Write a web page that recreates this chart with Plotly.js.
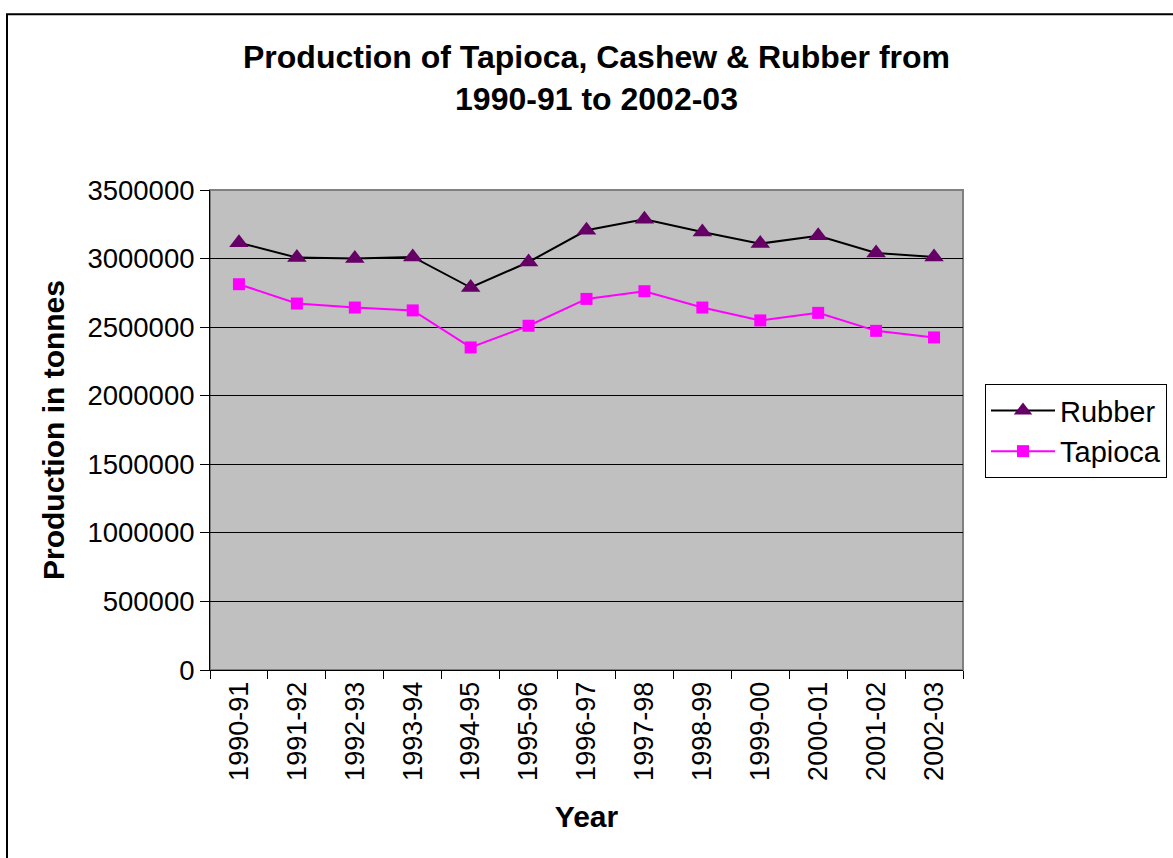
<!DOCTYPE html>
<html>
<head>
<meta charset="utf-8">
<script src="https://cdn.plot.ly/plotly-3.0.1.min.js"></script>
<style>
  html, body { margin: 0; padding: 0; background: #fff; }
  #chart { width: 1173px; height: 858px; }
</style>
</head>
<body>
<div id="chart"></div>
<script>
const years = ["1990-91","1991-92","1992-93","1993-94","1994-95","1995-96","1996-97","1997-98","1998-99","1999-00","2000-01","2001-02","2002-03"];
const rubber = [3116000, 3007000, 3000000, 3012000, 2789000, 2975000, 3206000, 3286000, 3194000, 3109000, 3167000, 3041000, 3012000];
const tapioca = [2813000, 2672000, 2643000, 2622000, 2352000, 2510000, 2706000, 2762000, 2643000, 2549000, 2604000, 2473000, 2425000];

const FONT = "Liberation Sans, Arial, sans-serif";

const traces = [
  {
    x: years, y: rubber, name: "Rubber", type: "scatter", mode: "lines+markers",
    line: { color: "#000000", width: 2 },
    marker: { symbol: "triangle-up", size: 17, color: "#660066" }
  },
  {
    x: years, y: tapioca, name: "Tapioca", type: "scatter", mode: "lines+markers",
    line: { color: "#FF00FF", width: 2 },
    marker: { symbol: "square", size: 12, color: "#FF00FF" }
  }
];

const L = 210, R = 963, T = 189.5, B = 670.5;
const W = R - L, H = B - T;
const px = v => (v - L) / W;
const py = v => (B - v) / H;

const layout = {
  width: 1173, height: 858,
  margin: { l: L, r: 1173 - R, t: T, b: 858 - B, autoexpand: false },
  paper_bgcolor: "#ffffff",
  plot_bgcolor: "#C0C0C0",
  font: { family: FONT, color: "#000", size: 27 },
  title: {
    text: "<b>Production of Tapioca, Cashew & Rubber from<br>1990-91 to 2002-03</b>",
    font: { family: FONT, size: 32, color: "#000" },
    x: px(596.5), xref: "paper", xanchor: "center",
    y: 1 - 68 / 858, yref: "container", yanchor: "middle"
  },
  showlegend: true,
  legend: {
    x: px(985), y: py(384), xanchor: "left", yanchor: "top",
    bgcolor: "#ffffff", bordercolor: "#000", borderwidth: 1,
    font: { family: FONT, size: 29, color: "#000" },
    itemwidth: 64, tracegroupgap: 0
  },
  xaxis: {
    type: "category",
    range: [-0.5, years.length - 0.5],
    tickangle: -90,
    ticks: "outside", ticklen: 8, tickcolor: "#000", tickwidth: 1,
    tickson: "boundaries",
    showline: true, linecolor: "#000", linewidth: 1,
    showgrid: false, zeroline: false,
    tickfont: { family: FONT, size: 27, color: "#000" },
    title: { text: "<b>Year</b>", font: { family: FONT, size: 30, color: "#000" }, standoff: 26 },
    automargin: false
  },
  yaxis: {
    range: [0, 3500000], dtick: 500000, tick0: 0,
    tickformat: "d",
    ticks: "outside", ticklen: 9, tickcolor: "#000", tickwidth: 1,
    showline: true, linecolor: "#000", linewidth: 1,
    showgrid: true, gridcolor: "#000", gridwidth: 1,
    zeroline: false,
    tickfont: { family: FONT, size: 27.5, color: "#000" },
    title: { text: "<b>Production in tonnes</b>", font: { family: FONT, size: 30, color: "#000" }, standoff: 13 },
    automargin: false
  },
  shapes: [
    { type: "rect", xref: "paper", yref: "paper", x0: 0, x1: 1, y0: 0, y1: 1,
      line: { color: "#808080", width: 2 }, layer: "below" },
    { type: "rect", xref: "paper", yref: "paper",
      x0: px(7), x1: px(1190), y0: py(880), y1: py(13.5),
      line: { color: "#000", width: 2 }, fillcolor: "rgba(0,0,0,0)", layer: "below" }
  ]
};

Plotly.newPlot("chart", traces, layout, { displayModeBar: false, staticPlot: true });
</script>
</body>
</html>
